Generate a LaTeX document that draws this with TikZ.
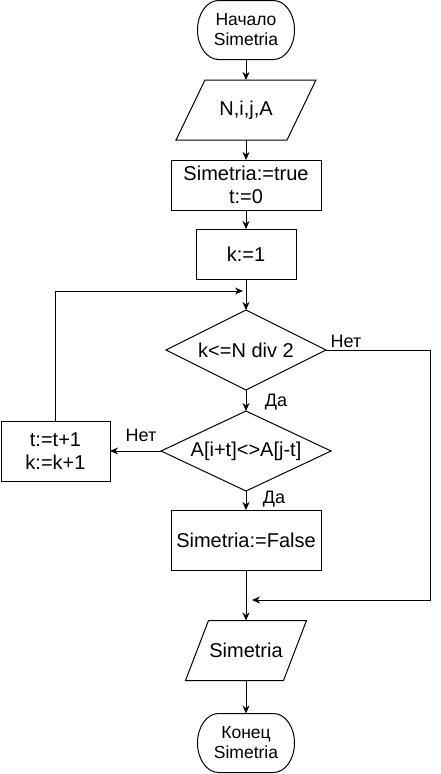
\documentclass[tikz,border=0pt]{standalone}
\usepackage{fontspec}
\setmainfont{Liberation Sans}
\usetikzlibrary{arrows.meta,shapes.geometric}
\begin{document}
\begin{tikzpicture}[x=1pt,y=-1pt,
  every node/.style={inner sep=0pt, outer sep=0pt},
  txt/.style={font=\fontsize{20}{22.5}\selectfont, align=center},
  term/.style={font=\fontsize{17.5}{20}\selectfont, align=center, minimum width=97pt, minimum height=59pt},
  procbox/.style={draw, line width=1pt, txt, rectangle},
  decis/.style={draw, line width=1pt, txt, diamond, aspect=2},
  iobox/.style={txt, minimum height=60pt},
  lbl/.style={font=\fontsize{18}{20}\selectfont},
  outline/.style={line width=1pt},
  conn/.style={line width=1pt, -{Stealth[length=8pt,width=7pt]}},
  plain/.style={line width=1pt}
]
\useasboundingbox (0,0) rectangle (440,774);

% nodes
\node[term] (start) at (246,30) {Начало\\Simetria};
\draw[outline] ([xshift=21pt]start.north west) -- ([xshift=-21pt]start.north east)
  arc[start angle=90, end angle=-90, x radius=21pt, y radius=29.5pt]
  -- ([xshift=21pt]start.south west)
  arc[start angle=270, end angle=90, x radius=21pt, y radius=29.5pt] -- cycle;

\node[iobox, minimum width=140pt] (io1) at (246,110) {N,i,j,A};
\draw[outline] ([xshift=29pt]io1.north west) -- (io1.north east)
  -- ([xshift=-29pt]io1.south east) -- (io1.south west) -- cycle;

\node[procbox, minimum width=150pt, minimum height=50pt] (init) at (246,185) {Simetria:=true\\t:=0};
\node[procbox, minimum width=100pt, minimum height=50pt] (k1) at (246,254) {k:=1};

\node[decis, minimum width=160pt, minimum height=80pt] (d1) at (246,350) {k<=N div 2};
\node[decis, minimum width=170pt, minimum height=80pt] (d2) at (246,451) {A[i+t]<>A[j-t]};

\node[procbox, minimum width=109pt, minimum height=60pt] (inc) at (55.5,451) {t:=t+1\\k:=k+1};
\node[procbox, minimum width=150pt, minimum height=60pt] (fals) at (246,540) {Simetria:=False};

\node[iobox, minimum width=121pt] (io2) at (246,650.5) {Simetria};
\draw[outline] ([xshift=23pt]io2.north west) -- (io2.north east)
  -- ([xshift=-23pt]io2.south east) -- (io2.south west) -- cycle;

\node[term] (stop) at (246,743) {Конец\\Simetria};
\draw[outline] ([xshift=21pt]stop.north west) -- ([xshift=-21pt]stop.north east)
  arc[start angle=90, end angle=-90, x radius=21pt, y radius=29.5pt]
  -- ([xshift=21pt]stop.south west)
  arc[start angle=270, end angle=90, x radius=21pt, y radius=29.5pt] -- cycle;

% helper coordinates
\coordinate (loopin) at (243,291);
\coordinate (rtx) at (430,600);
\coordinate (merge) at (252,600);

% connectors
\draw[conn] (start.south) -- (io1.north);
\draw[conn] (io1.south) -- (init.north);
\draw[conn] (init.south) -- (k1.north);
\draw[conn] (k1.south) -- (d1.north);
\draw[conn] (d1.south) -- (d2.north);
\draw[conn] (d2.south) -- (fals.north);
\draw[conn] (d2.west) -- (inc.east);
\draw[conn] (inc.north) |- (loopin);
\draw[conn] (d1.east) -- (d1.east -| rtx) |- (merge);
\draw[conn] (fals.south) -- (io2.north);
\draw[conn] (io2.south) -- (stop.north);

% labels
\node[lbl] (l1) at (346,341) {Нет};
\node[lbl] (l2) at (276,402) {Да};
\node[lbl] (l3) at (141,435) {Нет};
\node[lbl] (l4) at (274,499) {Да};
\end{tikzpicture}
\end{document}
